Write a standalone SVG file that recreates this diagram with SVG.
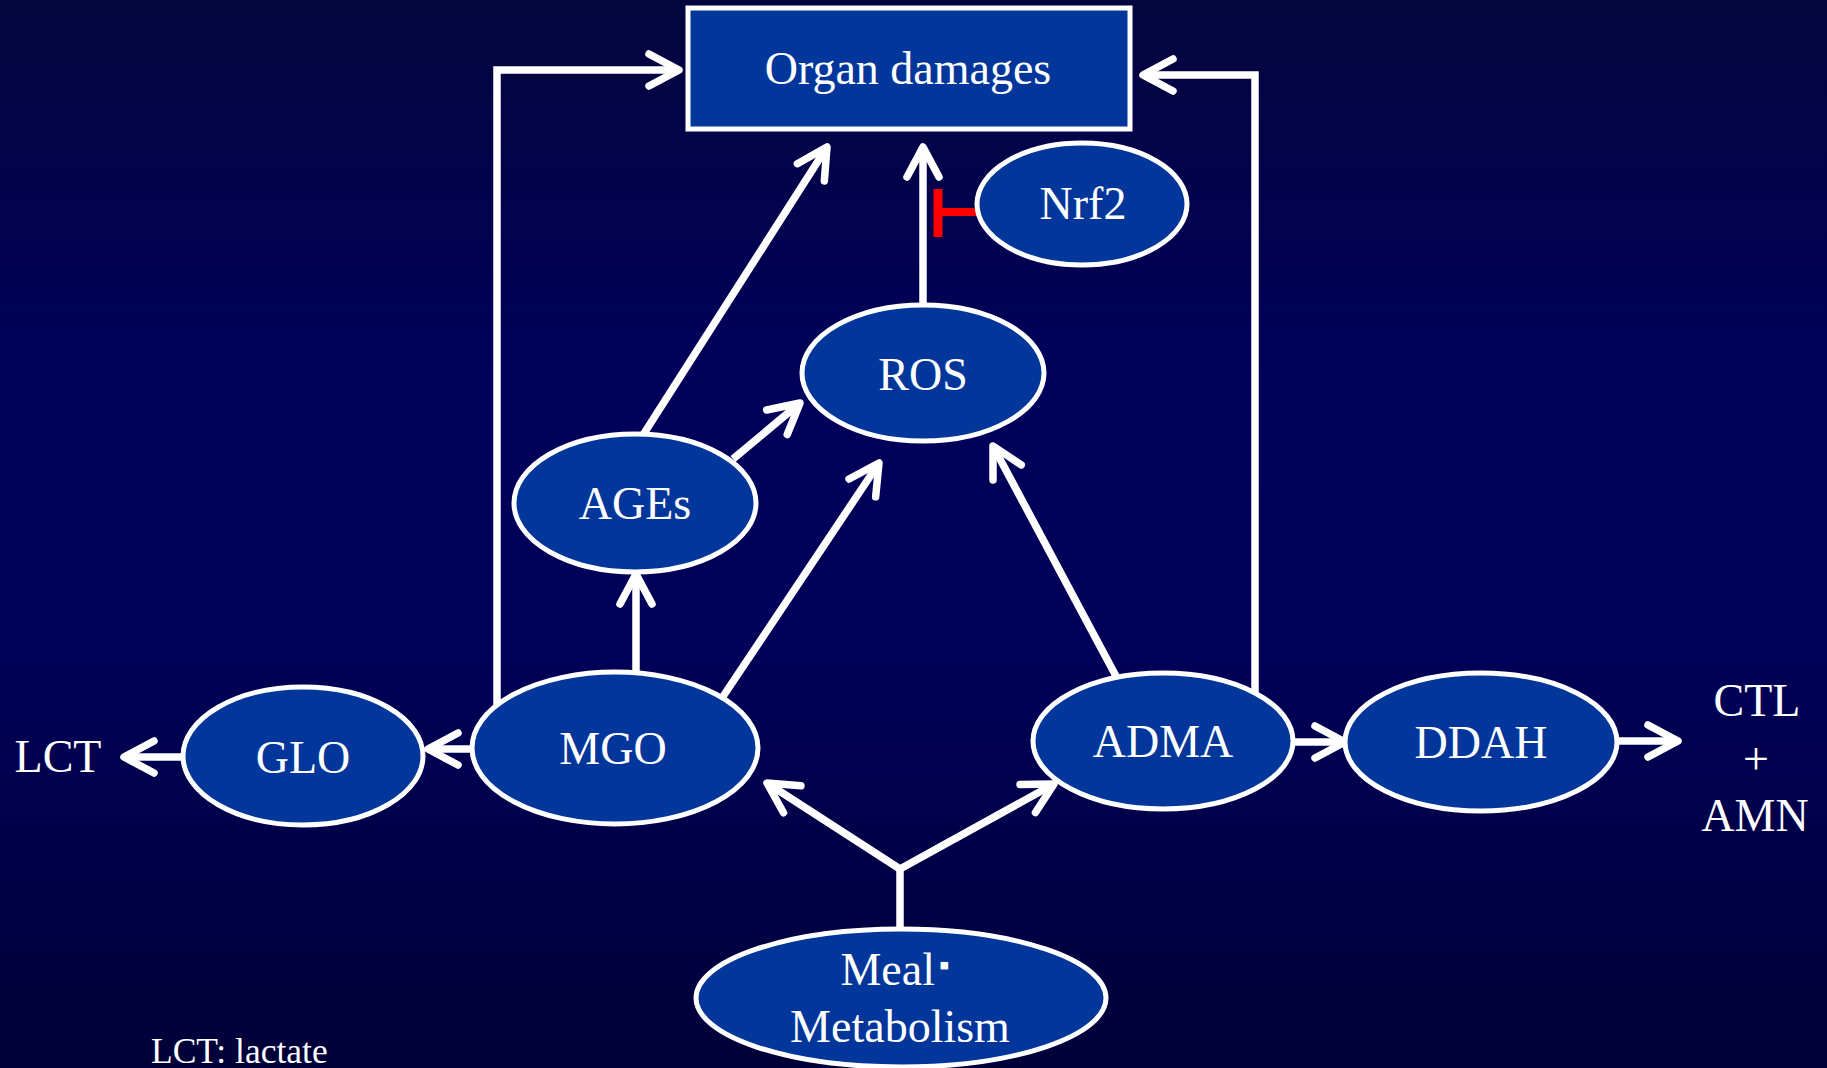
<svg xmlns="http://www.w3.org/2000/svg" width="1827" height="1068" viewBox="0 0 1827 1068">
<defs>
<linearGradient id="bg" x1="0" y1="0" x2="0" y2="1">
<stop offset="0" stop-color="#05053e"/>
<stop offset="0.35" stop-color="#00005a"/>
<stop offset="0.6" stop-color="#000058"/>
<stop offset="1" stop-color="#000038"/>
</linearGradient>
<marker id="ah" markerUnits="userSpaceOnUse" orient="auto" refX="0" refY="0" markerWidth="60" markerHeight="60" overflow="visible">
<path d="M -30,-16 L 0,0 L -30,16" fill="none" stroke="#fff" stroke-width="7.5" stroke-linecap="round" stroke-linejoin="round"/>
</marker>
</defs>
<style>
.node { fill: #02369b; stroke: #fff; stroke-width: 5; }
.lbl { font-family: "Liberation Serif", "Times New Roman", serif; font-size: 46px; fill: #fff; text-anchor: middle; }
.edge { fill: none; stroke: #fff; stroke-width: 7.5; stroke-linecap: butt; stroke-linejoin: miter; }
.arr { marker-end: url(#ah); }
.inh { fill: none; stroke: #ff0000; }
</style>
<rect x="0" y="0" width="1827" height="1068" fill="url(#bg)"/>

<g id="connectors">
<path class="edge arr" d="M 497,705 V 70 H 679"/>
<path class="edge arr" d="M 1255,700 V 75 H 1143"/>
<path class="edge arr" d="M 643,435 L 827,147"/>
<path class="edge arr" d="M 923,307 V 147"/>
<path class="edge arr" d="M 733,459 L 800,403"/>
<path class="edge arr" d="M 722,698 L 879,463"/>
<path class="edge arr" d="M 636,674 V 574"/>
<path class="edge arr" d="M 1117,678 L 993,446"/>
<path class="edge arr" d="M 474,749 H 428"/>
<path class="edge arr" d="M 184,757 H 124"/>
<path class="edge arr" d="M 1292,742 H 1345"/>
<path class="edge arr" d="M 1617,741 H 1678"/>
<path class="edge" d="M 900,930 V 868"/>
<path class="edge arr" d="M 900,869 L 767,783"/>
<path class="edge arr" d="M 900,869 L 1054,784"/>
<path class="inh" stroke-width="8" d="M 938,212 H 979"/>
<path class="inh" stroke-width="9" d="M 938,189 V 237"/>
</g>

<g id="organ-damages">
<rect class="node" x="688" y="8" width="442" height="121"/>
<text class="lbl" x="908" y="84">Organ damages</text>
</g>
<g id="nrf2">
<ellipse class="node" cx="1082" cy="204" rx="105" ry="61"/>
<text class="lbl" x="1083" y="219">Nrf2</text>
</g>
<g id="ros">
<ellipse class="node" cx="923" cy="373" rx="121" ry="68"/>
<text class="lbl" x="923" y="390">ROS</text>
</g>
<g id="ages">
<ellipse class="node" cx="635" cy="503" rx="121" ry="69"/>
<text class="lbl" x="635" y="519">AGEs</text>
</g>
<g id="mgo">
<ellipse class="node" cx="615" cy="748" rx="143" ry="76"/>
<text class="lbl" x="613" y="764">MGO</text>
</g>
<g id="glo">
<ellipse class="node" cx="303" cy="756" rx="120" ry="69"/>
<text class="lbl" x="303" y="773">GLO</text>
</g>
<g id="lct">
<text class="lbl" x="58" y="772">LCT</text>
</g>
<g id="adma">
<ellipse class="node" cx="1163" cy="741" rx="130" ry="68"/>
<text class="lbl" x="1163" y="757">ADMA</text>
</g>
<g id="ddah">
<ellipse class="node" cx="1481" cy="742" rx="136" ry="69"/>
<text class="lbl" x="1481" y="758">DDAH</text>
</g>
<g id="ctl-amn">
<text class="lbl" x="1757" y="716">CTL</text>
<text class="lbl" x="1756" y="774">+</text>
<text class="lbl" x="1755" y="831">AMN</text>
</g>
<g id="meal">
<ellipse class="node" cx="901" cy="998" rx="205" ry="69"/>
<text class="lbl" x="895" y="985">Meal<tspan font-size="30" dx="4" dy="-10">▪</tspan></text>
<text class="lbl" x="900" y="1042">Metabolism</text>
</g>
<text x="151" y="1063" font-family="Liberation Serif, serif" font-size="35.5" fill="#fff">LCT: lactate</text>
</svg>
